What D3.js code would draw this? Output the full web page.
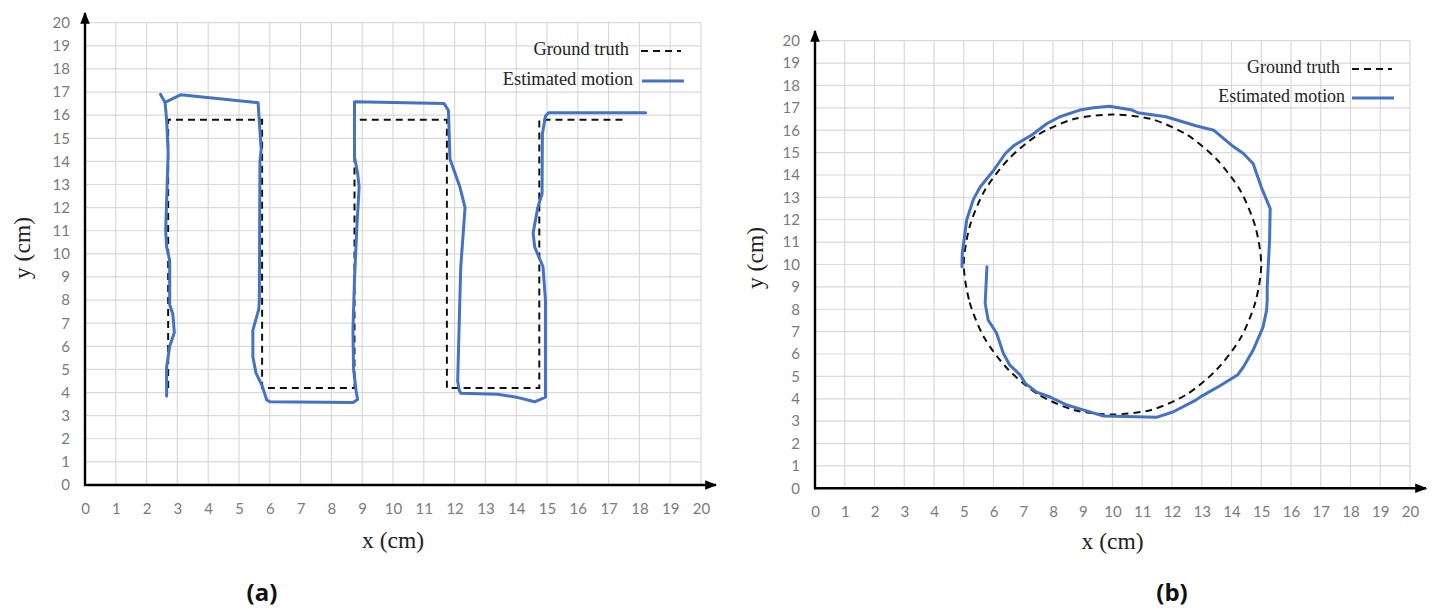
<!DOCTYPE html>
<html>
<head>
<meta charset="utf-8">
<script src="https://cdn.jsdelivr.net/npm/d3@7"></script>
<style>
  html, body { margin: 0; padding: 0; background: #ffffff; }
  svg { display: block; }
</style>
</head>
<body>
<svg id="fig" width="1442" height="611"></svg>
<script>
// ---------- data ----------
const tickValues = d3.range(0, 21);           // 0 … 20 on both axes
const legendLabels = ["Ground truth", "Estimated motion"];
const panelLabels = ["(a)", "(b)"];
const axisTitles = ["x (cm)", "y (cm)"];

// (a) zig-zag path: planned route
const zigTruthX = [2.7, 2.7, 5.75, 5.75, 8.75, 8.75, 11.75, 11.75, 14.75, 14.75, 17.6];
const zigTruthY = [4.2, 15.8, 15.8, 4.2, 4.2, 15.8, 15.8, 4.2, 4.2, 15.8, 15.8];

// (a) zig-zag path: estimated trajectory
const zigEstX = [2.65, 2.65, 2.75, 2.9, 2.85, 2.75, 2.75, 2.65, 2.62, 2.7, 2.65, 2.6,
                 3.1, 5.62, 5.72, 5.68, 5.66, 5.64, 5.6, 5.45, 5.45, 5.55, 5.75, 5.9, 6.0,
                 8.7, 8.85, 8.8, 8.72, 8.7, 8.75, 8.82, 8.9, 8.85, 8.75, 8.75,
                 11.66, 11.8, 11.85, 12.17, 12.34, 12.2, 12.17, 12.1, 12.15, 12.2,
                 13.4, 14.0, 14.6, 14.95, 14.95, 14.95, 14.87, 14.6, 14.55, 14.7, 14.84, 14.85, 14.95, 15.05, 18.2];
const zigEstY = [3.85, 5.1, 6.0, 6.6, 7.4, 7.8, 9.7, 10.3, 11.0, 14.4, 15.8, 16.55,
                 16.88, 16.54, 14.5, 14.0, 8.0, 7.6, 7.4, 6.7, 5.55, 4.85, 4.3, 3.68, 3.6,
                 3.57, 3.7, 4.1, 5.0, 6.7, 8.9, 11.0, 12.9, 13.5, 14.2, 16.58,
                 16.5, 16.2, 14.1, 12.9, 12.0, 9.44, 8.0, 4.5, 4.1, 3.97,
                 3.93, 3.8, 3.6, 3.8, 4.3, 8.0, 9.44, 10.3, 10.9, 12.0, 12.6, 15.2, 15.95, 16.1, 16.1];
// short kink at the start of the first top edge
const zigKinkX = [2.45, 2.6];
const zigKinkY = [16.9, 16.55];

// (b) circular path: planned route
const ringTruthX = [5.0, 5.2, 5.7, 6.5, 7.5, 8.7, 10.0, 11.3, 12.5, 13.5, 14.3, 14.8,
                    15.0, 14.8, 14.3, 13.5, 12.5, 11.3, 10.0, 8.7, 7.5, 6.5, 5.7, 5.2];
const ringTruthY = [10.0, 8.3, 6.7, 5.3, 4.2, 3.5, 3.3, 3.5, 4.2, 5.3, 6.7, 8.3,
                    10.0, 11.7, 13.3, 14.7, 15.8, 16.5, 16.7, 16.5, 15.8, 14.7, 13.3, 11.7];

// (b) circular path: estimated trajectory
const ringEstX = [4.94, 4.95, 5.1, 5.32, 5.55, 6.0, 6.4, 6.67, 7.3, 7.8, 8.23, 8.9, 9.36, 9.9,
                  10.66, 10.85, 11.8, 12.8, 13.4, 14.0, 14.4, 14.73, 15.0, 15.3, 15.28, 15.2,
                  15.2, 15.18, 15.06, 14.73, 14.4, 14.2, 13.6, 13.0, 12.8, 12.03, 11.5, 9.7,
                  8.9, 8.47, 7.9, 7.45, 7.06, 6.9, 6.55, 6.33, 6.1, 5.82, 5.72, 5.78];
const ringEstY = [9.9, 10.5, 12.0, 12.9, 13.46, 14.2, 14.96, 15.3, 15.8, 16.3, 16.6, 16.9, 17.0, 17.07,
                  16.9, 16.78, 16.6, 16.2, 16.0, 15.33, 14.96, 14.5, 13.46, 12.5, 11.1, 9.0,
                  8.4, 7.96, 7.2, 6.18, 5.42, 5.06, 4.57, 4.12, 3.94, 3.41, 3.18, 3.23,
                  3.55, 3.72, 4.08, 4.3, 4.7, 5.06, 5.5, 6.03, 6.94, 7.52, 8.27, 9.9];

// ---------- styling ----------
const BLUE = "#4472c4";
const GRID = "#d9d9d9";
const TICK_COLOR = "#7b7b7b";
const TICK_FONT = "Lato, 'Open Sans', sans-serif";
const SERIF = "'Liberation Serif', 'DejaVu Serif', serif";

const svg = d3.select("#fig");
const defs = svg.append("defs");
defs.append("marker")
  .attr("id", "arrow")
  .attr("viewBox", "0 0 10 10")
  .attr("refX", 9).attr("refY", 5)
  .attr("markerWidth", 5).attr("markerHeight", 5)
  .attr("markerUnits", "strokeWidth")
  .attr("orient", "auto")
  .append("path")
  .attr("d", "M0,1 L10,5 L0,9 z")
  .attr("fill", "#000");

const zip = (xs, ys) => xs.map((x, i) => [x, ys[i]]);

function drawPanel(cfg) {
  const x = d3.scaleLinear().domain([0, 20]).range(cfg.xRange);
  const y = d3.scaleLinear().domain([0, 20]).range(cfg.yRange);
  const g = svg.append("g");

  // grid
  g.append("g").selectAll("line.v").data(tickValues.slice(1)).join("line")
    .attr("x1", d => x(d)).attr("x2", d => x(d))
    .attr("y1", y(0)).attr("y2", y(20))
    .attr("stroke", GRID).attr("stroke-width", 1.2);
  g.append("g").selectAll("line.h").data(tickValues.slice(1)).join("line")
    .attr("x1", x(0)).attr("x2", x(20))
    .attr("y1", d => y(d)).attr("y2", d => y(d))
    .attr("stroke", GRID).attr("stroke-width", 1.2);

  // tick labels via d3 axes
  const ax = g.append("g").attr("transform", `translate(0,${y(0)})`)
    .call(d3.axisBottom(x).tickValues(tickValues).tickSize(0).tickPadding(cfg.xPad));
  const ay = g.append("g").attr("transform", `translate(${x(0)},0)`)
    .call(d3.axisLeft(y).tickValues(tickValues).tickSize(0).tickPadding(cfg.yPad));
  [ax, ay].forEach(a => {
    a.select(".domain").remove();
    a.selectAll("text")
      .attr("fill", TICK_COLOR)
      .style("font-family", TICK_FONT)
      .style("font-size", "15px");
  });

  // axis lines with arrow heads
  g.append("line")
    .attr("x1", x(0) - 1).attr("x2", cfg.xArrow)
    .attr("y1", y(0)).attr("y2", y(0))
    .attr("stroke", "#000").attr("stroke-width", 2.4)
    .attr("marker-end", "url(#arrow)");
  g.append("line")
    .attr("x1", x(0)).attr("x2", x(0))
    .attr("y1", y(0) + 1).attr("y2", cfg.yArrow)
    .attr("stroke", "#000").attr("stroke-width", 2.4)
    .attr("marker-end", "url(#arrow)");

  // trajectories
  const line = d3.line().x(d => x(d[0])).y(d => y(d[1]));
  const truthLine = cfg.closedTruth
    ? d3.line().x(d => x(d[0])).y(d => y(d[1])).curve(d3.curveCardinalClosed.tension(0.2))
    : line;

  g.append("path").datum(cfg.truth)
    .attr("d", truthLine)
    .attr("fill", "none").attr("stroke", "#111")
    .attr("stroke-width", 2).attr("stroke-dasharray", "7,5");

  cfg.est.forEach(pts => {
    g.append("path").datum(pts)
      .attr("d", line)
      .attr("fill", "none").attr("stroke", BLUE)
      .attr("stroke-width", 3).attr("stroke-linejoin", "round").attr("stroke-linecap", "round");
  });

  // legend
  const lg = g.append("g").style("font-family", SERIF).style("font-size", cfg.legend.fs + "px").attr("fill", "#222");
  lg.append("text").attr("x", cfg.legend.textX1).attr("y", cfg.legend.y1)
    .attr("text-anchor", "end").attr("dy", "0.32em").text(legendLabels[0]);
  lg.append("text").attr("x", cfg.legend.textX2).attr("y", cfg.legend.y2)
    .attr("text-anchor", "end").attr("dy", "0.32em").text(legendLabels[1]);
  lg.append("line")
    .attr("x1", cfg.legend.sx1).attr("x2", cfg.legend.sx1 + 40)
    .attr("y1", cfg.legend.y1 + 2).attr("y2", cfg.legend.y1 + 2)
    .attr("stroke", "#111").attr("stroke-width", 2).attr("stroke-dasharray", "7,5");
  lg.append("line")
    .attr("x1", cfg.legend.sx2).attr("x2", cfg.legend.sx2 + 42)
    .attr("y1", cfg.legend.y2 + 2).attr("y2", cfg.legend.y2 + 2)
    .attr("stroke", BLUE).attr("stroke-width", 3);

  // axis titles
  g.append("text")
    .attr("x", (x(0) + x(20)) / 2).attr("y", cfg.xTitleY)
    .attr("text-anchor", "middle")
    .style("font-family", SERIF).style("font-size", "23.5px").attr("fill", "#222")
    .text(axisTitles[0]);
  g.append("text")
    .attr("transform", `translate(${cfg.yTitleX},${cfg.yTitleCy}) rotate(-90)`)
    .attr("text-anchor", "middle")
    .style("font-family", SERIF).style("font-size", "23.5px").attr("fill", "#222")
    .text(axisTitles[1]);

  // panel label
  g.append("text")
    .attr("x", cfg.panelX).attr("y", 601)
    .attr("text-anchor", "middle")
    .style("font-family", "'Open Sans', 'Liberation Sans', sans-serif")
    .style("font-weight", "bold").style("font-size", "24px").attr("fill", "#111")
    .text(cfg.panelLabel);
}

drawPanel({
  xRange: [85, 701], yRange: [485, 22.7],
  xPad: 18, yPad: 15,
  xArrow: 716, yArrow: 13,
  truth: zip(zigTruthX, zigTruthY),
  est: [zip(zigEstX, zigEstY), zip(zigKinkX, zigKinkY)],
  closedTruth: false,
  legend: { fs: 18.4, textX1: 629, y1: 49, textX2: 633, y2: 79, sx1: 641, sx2: 642 },
  xTitleY: 548, yTitleX: 30, yTitleCy: 248,
  panelX: 262, panelLabel: panelLabels[0]
});

drawPanel({
  xRange: [815, 1410], yRange: [488.3, 40.7],
  xPad: 18, yPad: 15,
  xArrow: 1426, yArrow: 31,
  truth: zip(ringTruthX, ringTruthY),
  est: [zip(ringEstX, ringEstY)],
  closedTruth: true,
  legend: { fs: 17.9, textX1: 1340, y1: 67, textX2: 1345, y2: 96, sx1: 1352, sx2: 1352 },
  xTitleY: 549, yTitleX: 763, yTitleCy: 258,
  panelX: 1172, panelLabel: panelLabels[1]
});
</script>
</body>
</html>
